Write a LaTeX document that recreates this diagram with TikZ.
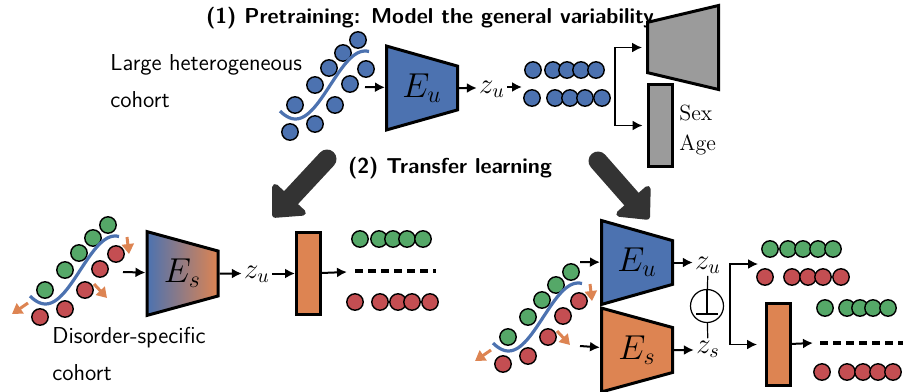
\documentclass[tikz,border=0pt]{standalone}
\usepackage{tikz}
\usetikzlibrary{arrows.meta,positioning,shapes.geometric,calc}

\definecolor{cohortblue}{RGB}{76,114,176}
\definecolor{cohortorange}{RGB}{221,132,82}
\definecolor{cohortgreen}{RGB}{85,168,104}
\definecolor{cohortred}{RGB}{196,78,82}
\definecolor{decodergray}{RGB}{155,155,155}
\definecolor{darkarrow}{RGB}{51,51,51}

\tikzset{
  encoder/.style={trapezium,trapezium stretches=true,shape border rotate=270,
    trapezium left angle=71.5,trapezium right angle=71.5,
    minimum width=42pt,minimum height=35.5pt,inner sep=0pt,
    draw=black,line width=1.5pt,font=\LARGE},
  decoder/.style={encoder,shape border rotate=90,inner sep=2pt},
  headbar/.style={draw=black,line width=1.5pt,minimum width=12pt,
    minimum height=41pt,inner sep=0pt},
  conn/.style={line width=1pt,-{Latex[length=5pt,width=5pt]}},
  bracket/.style={line width=0.8pt,-{Latex[length=5pt,width=5pt]}},
  datadot/.style={draw=black,line width=0.7pt},
  trend/.style={cohortblue,line width=1.6pt},
  shiftarrow/.style={cohortorange,line width=1.5pt,
    -{Triangle[length=5pt,width=6pt]}},
  bigarrow/.style={draw=darkarrow,line width=9.5pt,line cap=round,
    -{Triangle[round,line width=3pt,width=25pt,length=14pt]}},
  heading/.style={font=\sffamily\bfseries\fontsize{10.8}{12}\selectfont},
  cohortlabel/.style={font=\sffamily\fontsize{11.5}{18.5}\selectfont,
    align=left,inner sep=0pt},
  latentlabel/.style={font=\Large,inner sep=1pt},
  dashrow/.style={line width=2pt,dash pattern=on 4pt off 2.5pt},
}

\begin{document}
\begin{tikzpicture}[x=0.5pt,y=-0.5pt]
  \useasboundingbox (0,0) rectangle (903,391);

  % headings
  \node[heading] (stepone) at (430,18)
    {(1) Pretraining: Model the general variability};
  \node[heading] (steptwo) at (450,168) {(2) Transfer learning};

  % cohorts: dots around a trend curve
  \foreach \ox/\oy/\up/\low in {280/107/cohortblue/cohortblue,
      30/292/cohortgreen/cohortred, 493/339/cohortgreen/cohortred}{
    \begin{scope}[shift={(\ox,\oy)}]
      \foreach \dx/\dy in {78/-67,63/-54,49/-39,35/-22,15/-2}
        \draw[datadot,fill=\up] (\dx,\dy) circle[radius=4.1pt];
      \foreach \dx/\dy in {86/-38,70/-23,55/-2,35/17,10/25}
        \draw[datadot,fill=\low] (\dx,\dy) circle[radius=4.1pt];
      \draw[trend] plot[domain=-130:100,samples=40,variable=\t]
        ({(\t+130)/230*89},{-22-34*sin(\t)});
    \end{scope}
  }
  \foreach \ox/\oy in {30/292, 493/339}{
    \begin{scope}[shift={(\ox,\oy)}]
      \draw[shiftarrow] (97,-55) -- (99,-38);
      \draw[shiftarrow] (64,-8) -- (77,6);
      \draw[shiftarrow] (-2,11) -- (-18,22);
    \end{scope}
  }

  \node[cohortlabel,anchor=north west] (bigcohort) at (110,54)
    {Large heterogeneous\\cohort};
  \node[cohortlabel,anchor=north west] (smallcohort) at (52,327)
    {Disorder-specific\\cohort};

  % (1) pretraining
  \coordinate (inTop) at (365,87);
  \node[encoder,fill=cohortblue] (encU) at (422,88) {$E_u$};
  \node[latentlabel] (zTop) at (492,89) {$z_u$};
  \coordinate (rowsTop) at (522,87);
  \draw[conn] (inTop) -- (encU);
  \draw[conn] (encU) -- (zTop.west |- encU.east);
  \draw[conn] (zTop.east |- rowsTop) -- (rowsTop);
  \foreach \x in {533,553,567,581,596}
    \draw[datadot,fill=cohortblue] (\x,70) circle[radius=4.1pt];
  \foreach \x in {532,555,570,585,602}
    \draw[datadot,fill=cohortblue] (\x,98) circle[radius=4.1pt];

  \node[decoder,fill=decodergray] (dec) at (683,47.5) {};
  \node[headbar,fill=decodergray] (covbar) at (660,125.5) {};
  \node[anchor=west,align=left,inner sep=0pt,
        font=\fontsize{11}{15}\selectfont] (cov) at (679,130) {Sex\\Age};
  \coordinate (splitTop) at (615,88);
  \draw[bracket,shorten >=2pt] (splitTop) |- (dec.west);
  \draw[bracket,shorten >=2pt] (splitTop) |- (covbar.west);

  % (2) transfer learning
  \coordinate (leftTail) at (327,159);
  \coordinate (leftTip) at (273,217);
  \coordinate (rightTail) at (598,161);
  \coordinate (rightTip) at (649,219);
  \draw[bigarrow] (leftTail) -- (leftTip);
  \draw[bigarrow] (rightTail) -- (rightTip);

  % fine-tuning a single encoder
  \coordinate (inLeft) at (123,272);
  \node[encoder,left color=cohortblue,right color=cohortorange] (encS)
    at (182.5,273.5) {$E_s$};
  \node[latentlabel] (zLeft) at (257,274) {$z_u$};
  \node[headbar,fill=cohortorange] (predLeft) at (308.5,273.5) {};
  \coordinate (rowsLeft) at (347,272);
  \draw[conn] (inLeft) -- (encS);
  \draw[conn] (encS) -- (zLeft.west |- encS.east);
  \draw[conn] (zLeft.east |- predLeft.west) -- (predLeft);
  \draw[conn] (predLeft) -- (rowsLeft);
  \foreach \x in {360,379,393,407,423}
    \draw[datadot,fill=cohortgreen] (\x,239) circle[radius=4.1pt];
  \draw[dashrow] (355,271) -- (436,271);
  \foreach \x in {355,380,398,412,430}
    \draw[datadot,fill=cohortred] (\x,302) circle[radius=4.1pt];

  % shared and specific encoders
  \coordinate (inShared) at (580,262);
  \coordinate (inSpecific) at (580,346);
  \node[encoder,fill=cohortblue] (encU2) at (637,262.5) {$E_u$};
  \node[encoder,fill=cohortorange] (encS2) at (637,350) {$E_s$};
  \node[latentlabel] (zU2) at (708,265) {$z_u$};
  \node[latentlabel] (zS2) at (708,349) {$z_s$};
  \draw[conn] (inShared) -- (encU2);
  \draw[conn] (inSpecific) -- (encS2);
  \draw[conn] (encU2) -- (zU2.west |- encU2.east);
  \draw[conn] (encS2) -- (zS2.west |- encS2.east);
  \node[circle,draw,line width=0.6pt,minimum size=16.5pt,inner sep=0pt]
    (orth) at (707,306) {};
  \draw[line width=0.6pt] (zU2) -- (orth);
  \draw[line width=0.6pt] (orth) -- (zS2);
  \draw[line width=0.6pt] (orth.north) -- ($(orth.center)+(0,8)$);
  \draw[line width=0.6pt] ($(orth.center)+(-11,8)$) -- ($(orth.center)+(11,8)$);

  \coordinate (splitBot) at (730,303);
  \coordinate (rowsRight) at (758,264);
  \node[headbar,fill=cohortorange] (predRight) at (778.5,344.5) {};
  \coordinate (dashRight) at (813,343);
  \draw[bracket] (splitBot) |- (rowsRight);
  \draw[bracket,shorten >=4pt] (splitBot) |- (predRight.west);
  \draw[conn] (predRight) -- (dashRight);
  \foreach \x in {770,788,803,818,833}
    \draw[datadot,fill=cohortgreen] (\x,249) circle[radius=4.1pt];
  \foreach \x in {765,792,808,823,841}
    \draw[datadot,fill=cohortred] (\x,277) circle[radius=4.1pt];
  \foreach \x in {825,847,860,873,888}
    \draw[datadot,fill=cohortgreen] (\x,308) circle[radius=4.1pt];
  \draw[dashrow] (820,343) -- (910,343);
  \foreach \x in {822,847,863,878,893}
    \draw[datadot,fill=cohortred] (\x,372) circle[radius=4.1pt];
\end{tikzpicture}
\end{document}
